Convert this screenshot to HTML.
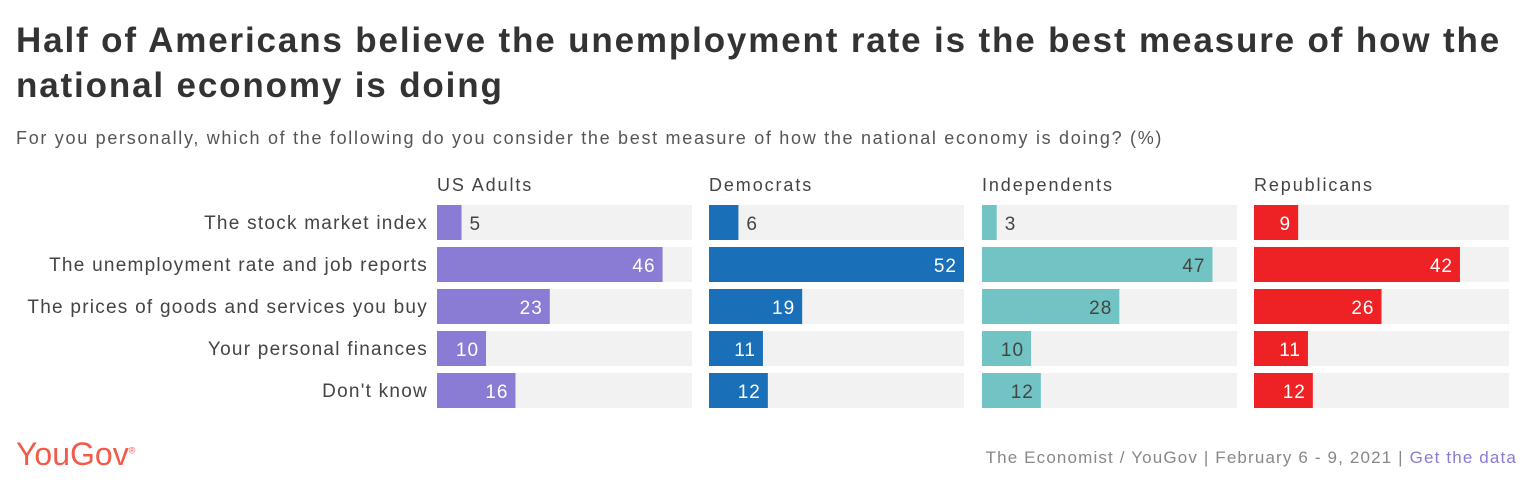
<!DOCTYPE html>
<html><head><meta charset="utf-8"><style>
body{margin:0;background:#fff;width:1529px;height:497px;overflow:hidden;font-family:"Liberation Sans",sans-serif;}
#t{position:absolute;left:16px;top:18px;font-size:35px;font-weight:bold;color:#333;line-height:45px;letter-spacing:1.85px;white-space:nowrap}
#s{position:absolute;left:16px;top:128px;font-size:18px;color:#555;letter-spacing:1.7px;white-space:nowrap}
svg{position:absolute;left:0;top:0}
</style></head><body>
<div id="t">Half of Americans believe the unemployment rate is the best measure of how the<br>national economy is doing</div>
<div id="s">For you personally, which of the following do you consider the best measure of how the national economy is doing? (%)</div>
<svg id="c" width="1529" height="497"></svg>
<script>
const categories=["The stock market index","The unemployment rate and job reports","The prices of goods and services you buy","Your personal finances","Don't know"];
const groups=["US Adults","Democrats","Independents","Republicans"];
const usAdults=[5,46,23,10,16];
const democrats=[6,52,19,11,12];
const independents=[3,47,28,10,12];
const republicans=[9,42,26,11,12];
const series=[usAdults,democrats,independents,republicans];
const colors=["#8a7bd4","#1a70b8","#72c4c4","#ee2224"];
const inColors=["#fff","#fff","#444","#fff"];
const NS="http://www.w3.org/2000/svg";
const svg=document.getElementById('c');
const panelX=[437,709,982,1254],pw=255,maxV=52;
const x=v=>v/maxV*pw;
const y=i=>205+i*42;
function mk(tag,attrs,txt){const e=document.createElementNS(NS,tag);for(const k in attrs)e.setAttribute(k,attrs[k]);if(txt!==undefined)e.textContent=txt;svg.appendChild(e);return e;}
categories.forEach((c,i)=>{const e=mk('text',{x:428,y:y(i)+24,'text-anchor':'end','font-size':19,fill:'#444','letter-spacing':1.25},c);

});
groups.forEach((g,gi)=>{
 const px=panelX[gi];
 const h=mk('text',{x:px,y:191,'font-size':18,fill:'#444','letter-spacing':1.9},g);
 
 
 series[gi].forEach((v,i)=>{
  const bg=mk('rect',{x:px,y:y(i),width:pw,height:35,fill:'#f2f2f2'});
  
  
  const w=x(v);
  const b=mk('rect',{x:px,y:y(i),width:w,height:35,fill:colors[gi]});
  
  
  const out=w<30;
  const t=mk('text',{x:out?px+w+8:px+w-7,y:y(i)+25,'text-anchor':out?'start':'end','font-size':19,fill:out?'#444':inColors[gi],'letter-spacing':1},v);
  
  
 });
});
</script>
<div style="position:absolute;left:16px;top:436px;font-size:32px;color:#f25a4a;letter-spacing:0px">YouGov<sup style="font-size:9px">®</sup></div>
<div style="position:absolute;right:12px;top:448px;font-size:17px;color:#888;letter-spacing:1.15px;white-space:nowrap">The Economist / YouGov | February 6 - 9, 2021 | <span style="color:#8a7bd4">Get the data</span></div>
</body></html>
